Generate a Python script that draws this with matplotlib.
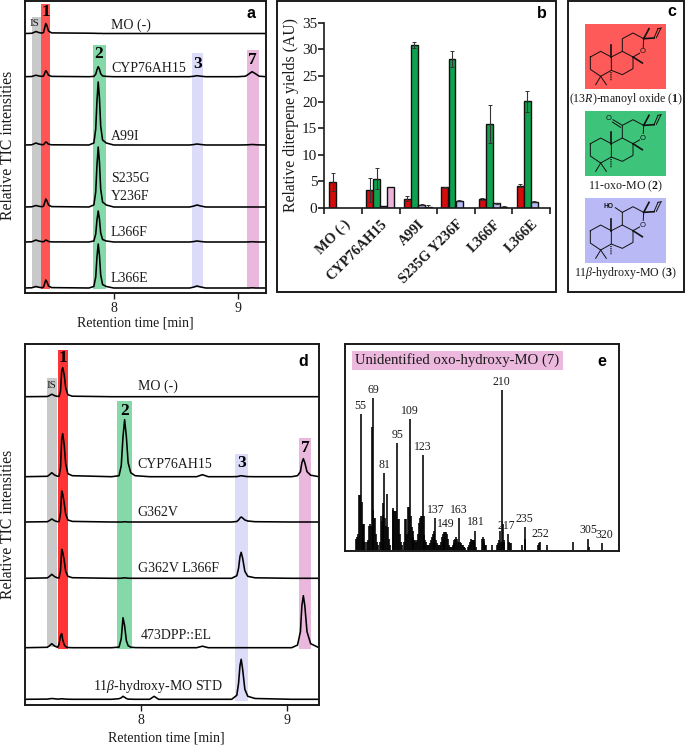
import matplotlib
matplotlib.use('Agg')
import matplotlib.pyplot as plt
from matplotlib.patches import Rectangle

plt.rcParams['font.family'] = ['Liberation Serif', 'DejaVu Serif']
plt.rcParams['mathtext.fontset'] = 'custom'
plt.rcParams['mathtext.rm'] = 'Liberation Serif'
plt.rcParams['mathtext.it'] = 'Liberation Serif:italic'
plt.rcParams['mathtext.bf'] = 'Liberation Serif:bold'

W, H = 685, 746
RED, GREEN, BLUE, PINK = '#d40c0c', '#0ea24f', '#babaf5', '#ecb2da'
INK = '#1a1a1a'

# panel a, chromatograms (retention time, intensity above each baseline)
rt_a = [7.286, 7.34, 7.355, 7.375, 7.395, 7.42,
        7.435, 7.445, 7.453, 7.462, 7.475, 7.50,
        7.80, 7.84, 7.855, 7.865, 7.875, 7.885, 7.895, 7.91, 7.94, 8.0,
        8.61, 8.64, 8.67, 8.70, 8.74,
        9.0, 9.06, 9.09, 9.113, 9.14, 9.17, 9.225]
base_a = [259.5, 216.3, 148, 86, 51, 5]
mo_a = [0, .2, 1, 2, 1, .4, 1, 6, 10, 8, 2.5, .6, .3, .2, .2, .1, .1, .1, .1, 0, 0, 0, 0, 0, 0, 0, 0, 0, 0, 0, 0, 0, 0, 0]
cyp_a = [0, .2, .8, 1.5, .8, .3, .6, 3.6, 6, 4.8, 1.5, .3, 0, .3, 2.5, 7, 10, 7.5, 3, .8, .3, 0, 0, .4, 1, .5, 0, 0, .5, 3, 5, 3, .5, 0]
a99i_a = [0, .2, 1, 2, 1, .4, .3, 1.8, 3, 2.4, .8, .2, 0, 2, 16, 44, 63, 47, 19, 5, 2, 0, 0, .4, 1, .5, 0, 0, .1, .3, .5, .3, .1, 0]
s235g_a = [0, .2, .8, 1.5, .8, .3, .8, 4.8, 8, 6.4, 2, .4, 0, 2, 15, 42, 60, 45, 18, 5, 2, 0, 0, .8, 2, 1, 0, 0, 0, 0, 0, 0, 0, 0]
l366f_a = [0, .2, 1, 2, 1, .4, .2, 1.2, 2, 1.6, .5, .1, 0, 1, 8, 22, 31, 23, 9, 2.5, 1, 0, 0, .4, 1, .5, 0, 0, 0, .1, .3, .1, 0, 0]
l366e_a = [0, .2, .8, 1.5, .8, .3, .8, 4.8, 8, 6.4, 2, .4, 0, 1.5, 11, 31, 44, 33, 13, 3.5, 1.5, 0, 0, .8, 2, 1, 0, 0, 0, 0, .2, 0, 0, 0]
traces_a = [mo_a, cyp_a, a99i_a, s235g_a, l366f_a, l366e_a]

# panel b, yields
groups = ['MO (-)', 'CYP76AH15', 'A99I', 'S235G Y236F', 'L366F', 'L366E']
yield_1 = [4.8, 3.4, 1.7, 3.9, 1.6, 4.2]
err_1 = [1.7, 2.3, 0.5, 0.1, 0.2, 0.3]
yield_2 = [0, 5.5, 30.8, 28.1, 15.8, 20.1]
err_2 = [0, 2.0, 0.5, 1.5, 3.6, 2.0]
yield_3 = [0, 0.3, 0.6, 1.3, 0.8, 1.1]
err_3 = [0, 0, 0.05, 0.1, 0.1, 0.1]
yield_7 = [0, 4.0, 0.05, 0, 0.2, 0]
err_7 = [0, 0, 0.4, 0, 0.05, 0]

# panel d, chromatograms
rt_d = [7.207, 7.36, 7.375, 7.39, 7.41, 7.43,
        7.44, 7.45, 7.458, 7.465, 7.475, 7.485, 7.50, 7.53,
        7.80, 7.85, 7.865, 7.877, 7.888, 7.90, 7.912, 7.93, 7.96,
        8.06, 8.09, 8.12, 8.38, 8.42, 8.46,
        8.62, 8.655, 8.667, 8.677, 8.685, 8.695, 8.71, 8.73, 8.78,
        9.03, 9.07, 9.09, 9.10, 9.11, 9.12, 9.135, 9.16, 9.217]
base_d = [308.3, 228.3, 183, 126.7, 57.3, 5.7]
mo_d = [0, .2, 1.2, 2.5, 1, .3, .3, 6, 26, 29, 22, 9, 2, .5] + [0] * 33
cyp_d = [0, .4, 2, 4, 1.6, .4, .5, 9, 38, 43, 32, 13, 3, 1, 0, 1, 11, 40, 57, 40, 14, 4, 1, 0, 0, 0, 0, 2, 0, 0, .1, .4, .8, 1, .8, .4, .1, 0, 0, 1, 5, 14, 18, 14, 5, 1.5, 0]
g362v_d = [0, .3, 1.5, 3, 1.2, .3, .4, 9, 31, 28, 19, 8, 2, .6, 0, 0, 0, .1, .3, .1, 0, 0, 0, 0, 0, 0, 0, 0, 0, 0, .5, 2, 4, 5, 4, 2, 1, .3, 0, 0, 0, 0, 0, 0, 0, 0, 0]
double_d = [0, .4, 2, 4, 1.6, .4, .4, 8, 29, 26, 18, 7, 2, .6, 0, 0, .1, .3, .5, .3, .1, 0, 0, 0, 0, 0, 0, 0, 0, 0, 2.6, 10, 22, 26, 20, 7, 2, .5, 0, 0, 0, 0, 0, 0, 0, 0, 0]
dpp_d = [0, .4, 2, 4, 1.6, .4, 3.5, 12, 14, 8, 3, 1, .2, 0, 0, .6, 9, 30, 22, 7, 2, .5, .1, 0, 0, 0, 0, 1.5, 0, 0, 0, 0, 0, 0, 0, 0, 0, 0, 0, 2.6, 16, 42, 52, 42, 16, 4, 0]
std_d = [0, .2, .5, .8, .5, .2, .2, .4, .5, .5, .3, .2, .1, 0, 0, .6, 1.5, 3, 2, .8, .2, .1, 0, 0, 3, 0, 0, 0, 0, 0, 4, 16, 34, 40, 30, 10, 3, .8, 0, 0, 0, 0, 0, 0, 0, 0, 0]
traces_d = [mo_d, cyp_d, g362v_d, double_d, dpp_d, std_d]

# panel e, mass spectrum (percent of m/z 210)
mz = [50, 51, 52, 53, 54, 55, 56, 57, 58, 59, 60,
      62, 63, 64, 65, 66, 67, 68, 69, 70, 71, 72, 73, 74,
      76, 77, 78, 79, 80, 81, 82, 83, 84, 85, 86, 87,
      90, 91, 92, 93, 94, 95, 96, 97, 98, 99, 100,
      103, 104, 105, 106, 107, 108, 109, 110, 111, 112, 113, 114, 115, 116,
      117, 118, 119, 120, 121, 122, 123, 124, 125, 126, 127, 128,
      129, 130, 131, 132, 133, 134, 135, 136, 137, 138, 139, 140,
      141, 142, 143, 144, 145, 146, 147, 148, 149, 150, 151, 152, 153, 154,
      155, 156, 157, 158, 159, 160, 161, 162, 163, 164, 165, 166, 167, 168, 169, 170,
      173, 174, 175, 176, 177, 178, 179, 180, 181, 182,
      188, 189, 190, 191, 192, 193, 199,
      205, 206, 207, 208, 209, 210, 211, 212, 213,
      217, 218, 219, 220, 232, 235, 236, 250, 251, 252, 260, 288, 305, 306, 320]
abundance = [7, 8, 10, 34, 34, 85, 30, 15, 16, 16, 5,
             5, 6, 15, 16, 15, 77, 25, 95, 20, 20, 10, 5, 3,
             5, 21, 18, 29, 22, 48, 20, 15, 35, 14, 7, 3,
             26, 25, 24, 24, 24, 67, 19, 19, 10, 5, 3,
             5, 19, 19, 10, 27, 27, 82, 21, 14, 12, 8, 6, 6, 5,
             6, 10, 17, 20, 21, 21, 59, 21, 9, 6, 5, 3,
             3, 3, 4, 6, 8, 10, 12, 10, 20, 6, 4, 3,
             3, 3, 5, 8, 10, 7, 11, 11, 11, 10, 7, 3, 2, 2,
             2, 3, 4, 6, 7, 8, 7, 5, 20, 5, 4, 3, 3, 2, 2, 1,
             2, 3, 5, 7, 6, 6, 6, 5, 12, 2,
             7, 8, 7, 5, 3, 3, 3,
             3, 4, 6, 12, 5, 100, 16, 6, 5,
             10, 5, 4, 4, 3, 14, 7, 3, 4, 5, 3, 5, 7, 2, 4]
labelled_mz = [55, 69, 81, 95, 109, 123, 137, 149, 163, 181, 210, 217, 235, 252, 305, 320]

fig = plt.figure(figsize=(W / 100, H / 100), dpi=100)


def panel(l, t, r, b):
    return fig.add_axes([l / W, 1 - b / H, (r - l) / W, (b - t) / H])


# overlay in pixel coordinates for the labels and the structures
over = fig.add_axes([0, 0, 1, 1], zorder=10)
over.set_xlim(0, W)
over.set_ylim(H, 0)
over.axis('off')


def say(x, y, s, size=10, ha='left', **kw):
    over.text(x, y, s, fontsize=size, ha=ha, va='center', color=kw.pop('color', INK), **kw)


def letter(x, y, s):
    over.text(x, y, s, fontsize=11.5, ha='center', va='center', fontweight='bold',
              family='Liberation Sans', color='black')


def chrom_axes(l, t, r, b, x0, x1):
    ax = panel(l, t, r, b)
    ax.set_xlim(x0, x1)
    ax.set_ylim(0, b - t)
    ax.set_yticks([])
    ax.set_xticks([8, 9])
    ax.tick_params(axis='x', length=4.5, width=1, labelsize=10, pad=2, colors=INK)
    for s in ax.spines.values():
        s.set_linewidth(1.4)
        s.set_color(INK)
    return ax


# a
ax_a = chrom_axes(25, 0.7, 266, 293, 7.286, 9.225)
bands_a = [(7.343, 7.413, 5, 276, '#c9c9c9'),
           (7.415, 7.487, 4, 289, '#ff5555'),
           (7.831, 7.936, 3.5, 248, '#85d9a8'),
           (8.63, 8.718, 5, 240, '#dcdcf9'),
           (9.072, 9.168, 5, 243, '#e9b8dc')]
for x0, x1, y0, y1, c in bands_a:
    ax_a.add_patch(Rectangle((x0, y0), x1 - x0, y1 - y0, color=c, lw=0))
for b, tr in zip(base_a, traces_a):
    ax_a.plot(rt_a, [b + v for v in tr], color='black', lw=1.15)

for txt, y in [('MO (-)', 25), ('CYP76AH15', 68), ('A99I', 136), ('S235G', 179), ('Y236F', 197), ('L366F', 233), ('L366E', 278)]:
    say(111, y, txt)
for txt, x, y in [('1', 45.5, 11.5), ('2', 98.5, 54), ('3', 198, 64), ('7', 252.5, 60)]:
    say(x, y, txt, size=12.5, ha='center', fontweight='bold', color='black')
say(35, 24, 'IS', size=8, ha='center')
say(135, 323, 'Retention time [min]', size=10, ha='center')
say(8, 145, 'Relative TIC intensities', size=11.3, ha='center', rotation=90)
letter(251, 13, 'a')

# b
over.add_patch(Rectangle((277.5, 0.7), 279, 291.5, fill=False, ec=INK, lw=1.4))
ax_b = panel(324.3, 22.7, 550, 207.7)
slots = [0.115, 0.305, 0.495, 0.675]
for i in range(len(groups)):
    shift = 0.02 if i == 0 else 0
    for j, (vals, errs, c) in enumerate([(yield_1, err_1, RED), (yield_2, err_2, GREEN),
                                         (yield_3, err_3, BLUE), (yield_7, err_7, PINK)]):
        if vals[i] == 0:
            continue
        xb = i + slots[j] + shift + 0.09
        ax_b.bar(xb, vals[i], width=0.185, color=c, edgecolor='#111111', lw=1)
        if errs[i] > 0:
            ax_b.errorbar(xb, vals[i], yerr=errs[i], color='#333333', lw=0.8, capsize=1.5, capthick=0.7)
ax_b.set_xlim(0, 6)
ax_b.set_ylim(0, 35)
ax_b.set_xticks(range(7))
ax_b.set_xticklabels([])
ax_b.set_xticks([i + 0.5 for i in range(6)], minor=True)
ax_b.set_xticklabels(groups, minor=True, rotation=45, ha='right', rotation_mode='anchor',
                     fontsize=10.3, fontweight='bold', color=INK)
ax_b.tick_params(axis='x', which='minor', length=0, pad=7)
ax_b.tick_params(axis='x', which='major', length=4, width=1.2, color=INK)
ax_b.set_yticks(range(0, 36, 5))
ax_b.tick_params(axis='y', length=4, width=1.2, labelsize=11, pad=1, color=INK, labelcolor=INK)
for s in ['top', 'right']:
    ax_b.spines[s].set_visible(False)
for s in ['left', 'bottom']:
    ax_b.spines[s].set_linewidth(1.2)
    ax_b.spines[s].set_color(INK)
say(291.5, 114.5, 'Relative diterpene yields (AU)', size=11.3, ha='center', rotation=90)
letter(541.5, 13, 'b')

# c, structures
over.add_patch(Rectangle((567.7, 0.7), 116.5, 291.5, fill=False, ec=INK, lw=1.4))
rings = [[(22, 105), (53, 88), (85, 105), (85, 145), (53, 163), (22, 142), (22, 105)],
         [(85, 105), (118, 88), (150, 105), (150, 140), (118, 158), (85, 145)],
         [(118, 88), (118, 50), (150, 33), (182, 50), (180, 88), (150, 105)],
         [(53, 163), (38, 188)], [(53, 163), (70, 188)],
         [(213, 48), (225, 20)], [(220, 47), (233, 20)], [(225, 20), (235, 18)]]
wedges = [[(85, 105), (85, 70)], [(150, 105), (178, 123)], [(182, 50), (198, 20)], [(182, 50), (213, 48)]]
for y_top, fill, kind in [(24.3, '#ff5a5a', 'plain'), (111, '#3dc47a', 'oxo'), (198, '#b9b9f6', 'ol')]:
    over.add_patch(Rectangle((585, y_top), 81, 64.5, color=fill, lw=0))
    ox, oy = 583, y_top - 2.3
    def P(pts):
        return [ox + p[0] / 3 for p in pts], [oy + p[1] / 3 for p in pts]
    for r in rings:
        xs, ys = P(r)
        over.plot(xs, ys, color='#111111', lw=0.7)
    for wd in wedges:
        xs, ys = P(wd)
        over.plot(xs, ys, color='#111111', lw=1.2)
    xs, ys = P([(85, 150), (85, 178)])
    over.plot(xs, ys, color='#111111', lw=1.2, ls=(0, (0.5, 0.6)))
    xs, ys = P([(180, 88)])
    over.text(xs[0], ys[0], 'O', fontsize=5.5, ha='center', va='center', color='#111111',
              family='Liberation Sans', bbox=dict(fc=fill, ec='none', pad=0.2))
    if kind == 'oxo':
        xs, ys = P([(118, 50), (90, 33)])
        over.plot(xs, ys, color='#111111', lw=0.7)
        xs, ys = P([(113, 56), (88, 40)])
        over.plot(xs, ys, color='#111111', lw=0.7)
        xs, ys = P([(78, 30)])
        over.text(xs[0], ys[0], 'O', fontsize=5.5, ha='center', va='center', color='#111111',
                  family='Liberation Sans')
    if kind == 'ol':
        xs, ys = P([(118, 50), (97, 36)])
        over.plot(xs, ys, color='#111111', lw=0.7)
        xs, ys = P([(78, 32)])
        over.text(xs[0], ys[0], 'HO', fontsize=4.8, ha='center', va='center', color='#111111',
                  family='Liberation Sans', fontweight='bold')
say(625.7, 99, r'(13$\mathit{R}$)-manoyl oxide ($\mathbf{1}$)', size=8.6, ha='center')
say(625.7, 186, r'11-oxo-MO ($\mathbf{2}$)', size=8.6, ha='center')
say(625.7, 273, r'11$\mathit{\beta}$-hydroxy-MO ($\mathbf{3}$)', size=8.6, ha='center')
letter(672, 12, 'c')

# d
ax_d = chrom_axes(25, 344.3, 319, 705, 7.207, 9.217)
bands_d = [(7.36, 7.428, 58, 327, '#c9c9c9'),
           (7.433, 7.501, 55.7, 355, '#ff3535'),
           (7.834, 7.941, 55.7, 304, '#85d9a8'),
           (8.643, 8.733, 4.3, 251, '#dcdcf9'),
           (9.082, 9.162, 55.7, 266.7, '#e9b8dc')]
for x0, x1, y0, y1, c in bands_d:
    ax_d.add_patch(Rectangle((x0, y0), x1 - x0, y1 - y0, color=c, lw=0))
for b, tr in zip(base_d, traces_d):
    ax_d.plot(rt_d, [b + v for v in tr], color='black', lw=1.15)

for txt, x, y in [('MO (-)', 137.7, 386.7), ('CYP76AH15', 137.7, 464), ('G362V', 137.7, 512.7),
                  ('G362V L366F', 137.7, 568.7), ('473DPP::EL', 140.7, 635.7),
                  (r'11$\mathit{\beta}$-hydroxy-MO STD', 93, 686.7)]:
    say(x, y, txt)
for txt, x, y in [('1', 62.5, 358), ('2', 124.5, 411), ('3', 241.5, 463), ('7', 305, 448)]:
    say(x, y, txt, size=12.5, ha='center', fontweight='bold', color='black')
say(51.5, 385.5, 'IS', size=8, ha='center')
say(166, 738, 'Retention time [min]', size=10, ha='center')
say(8, 524.5, 'Relative TIC intensities', size=11.3, ha='center', rotation=90)
letter(303, 361, 'd')

# e
ax_e = panel(344.7, 344, 618.7, 550.7)
ax_e.vlines(mz, 0, abundance, color='black', lw=1.15)
ax_e.set_xlim(37.4, 338.5)
ax_e.set_ylim(-0.6, 128.8)
ax_e.set_xticks([])
ax_e.set_yticks([])
for s in ax_e.spines.values():
    s.set_linewidth(1.4)
    s.set_color(INK)
for m in labelled_mz:
    off = {217: -1, 320: 2}.get(m, 0)
    ax_e.annotate(str(m), (m, abundance[mz.index(m)]), xytext=(off, 1.5), textcoords='offset points',
                  ha='center', va='bottom', fontsize=8.5, color=INK)
over.add_patch(Rectangle((351.7, 351), 211, 19, color='#ecb8de', lw=0))
say(355, 360.5, 'Unidentified oxo-hydroxy-MO (7)', size=10.6)
letter(602, 361, 'e')

fig.savefig('out.png', dpi=100)
